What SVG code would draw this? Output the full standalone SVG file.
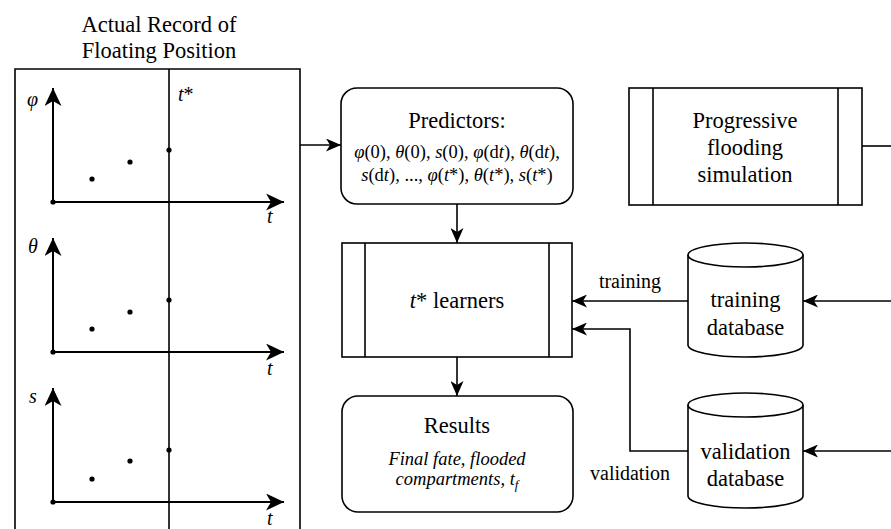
<svg xmlns="http://www.w3.org/2000/svg" width="891" height="529" viewBox="0 0 891 529" font-family="'Liberation Serif', 'DejaVu Serif', serif">
<defs>
<style>
.ln{fill:none;stroke:#000;stroke-width:1.6}
.ax{fill:none;stroke:#000;stroke-width:2}
.box{fill:#fff;stroke:#000;stroke-width:1.6}
text{font-family:'Liberation Serif','DejaVu Serif',serif;fill:#000}
.big{font-size:22.5px}
.lab{font-size:20px}
.mid{font-size:18.5px}
.it{font-style:italic}
.dot{fill:#000}
</style>
<marker id="arr" viewBox="0 0 15 13" refX="15" refY="6.5" markerWidth="15" markerHeight="13" markerUnits="userSpaceOnUse" orient="auto">
<path d="M0,0 L15,6.5 L0,13 L4,6.5 Z" fill="#000"/>
</marker>
<marker id="axa" viewBox="0 0 18 17" refX="18" refY="8.5" markerWidth="18" markerHeight="17" markerUnits="userSpaceOnUse" orient="auto">
<path d="M0,0 L18,8.5 L0,17 L5,8.5 Z" fill="#000"/>
</marker>
</defs>
<rect width="891" height="529" fill="#fff"/>

<g id="record">
<text class="big" x="159" y="32" text-anchor="middle">Actual Record of</text>
<text class="big" x="159" y="58" text-anchor="middle">Floating Position</text>
<path class="ln" d="M15,540 V69 H300 V540"/>
<line class="ln" x1="169" y1="69" x2="169" y2="540"/>
<text class="lab" x="178" y="101" font-style="italic">t<tspan font-style="normal">*</tspan></text>
<line class="ax" x1="53" y1="202" x2="53" y2="88" marker-end="url(#axa)"/>
<line class="ax" x1="53" y1="202" x2="284" y2="202" marker-end="url(#axa)"/>
<circle class="dot" cx="53" cy="202" r="2.6"/>
<circle class="dot" cx="92" cy="179" r="2.6"/>
<circle class="dot" cx="130" cy="162" r="2.6"/>
<circle class="dot" cx="169" cy="150" r="2.6"/>
<text class="lab it" x="27" y="106">φ</text>
<text class="lab it" x="267" y="223">t</text>
<line class="ax" x1="53" y1="352" x2="53" y2="238" marker-end="url(#axa)"/>
<line class="ax" x1="53" y1="352" x2="284" y2="352" marker-end="url(#axa)"/>
<circle class="dot" cx="53" cy="352" r="2.6"/>
<circle class="dot" cx="92" cy="329" r="2.6"/>
<circle class="dot" cx="130" cy="312" r="2.6"/>
<circle class="dot" cx="169" cy="300" r="2.6"/>
<text class="lab it" x="28" y="253">θ</text>
<text class="lab it" x="267" y="375">t</text>
<line class="ax" x1="53" y1="502" x2="53" y2="388" marker-end="url(#axa)"/>
<line class="ax" x1="53" y1="502" x2="284" y2="502" marker-end="url(#axa)"/>
<circle class="dot" cx="53" cy="502" r="2.6"/>
<circle class="dot" cx="92" cy="479" r="2.6"/>
<circle class="dot" cx="130" cy="461" r="2.6"/>
<circle class="dot" cx="169" cy="450" r="2.6"/>
<text class="lab it" x="29" y="403">s</text>
<text class="lab it" x="267" y="525">t</text>
</g>

<g id="connectors">
<line class="ln" x1="300" y1="145" x2="341" y2="145" marker-end="url(#arr)"/>
<line class="ln" x1="457" y1="204" x2="457" y2="243" marker-end="url(#arr)"/>
<line class="ln" x1="457" y1="357" x2="457" y2="396" marker-end="url(#arr)"/>
<line class="ln" x1="688" y1="301" x2="572" y2="301" marker-end="url(#arr)"/>
<polyline class="ln" points="688,451 630,451 630,329 572,329" marker-end="url(#arr)"/>
<line class="ln" x1="862" y1="146" x2="891" y2="146"/>
<line class="ln" x1="891" y1="301" x2="803" y2="301" marker-end="url(#arr)"/>
<line class="ln" x1="891" y1="451" x2="803" y2="451" marker-end="url(#arr)"/>
<text class="lab" x="630" y="288" text-anchor="middle">training</text>
<text class="lab" x="630" y="480" text-anchor="middle">validation</text>
</g>

<g id="predictors">
<rect class="box" x="341" y="88" width="232" height="116" rx="16"/>
<text class="big" x="457" y="128" text-anchor="middle">Predictors:</text>
<text class="mid" x="457" y="158" text-anchor="middle"><tspan class="it">φ</tspan>(0), <tspan class="it">θ</tspan>(0), <tspan class="it">s</tspan>(0), <tspan class="it">φ</tspan>(d<tspan class="it">t</tspan>), <tspan class="it">θ</tspan>(d<tspan class="it">t</tspan>),</text>
<text class="mid" x="457" y="181" text-anchor="middle"><tspan class="it">s</tspan>(d<tspan class="it">t</tspan>), ..., <tspan class="it">φ</tspan>(<tspan class="it">t</tspan>*), <tspan class="it">θ</tspan>(<tspan class="it">t</tspan>*), <tspan class="it">s</tspan>(<tspan class="it">t</tspan>*)</text>
</g>

<g id="learners">
<rect class="box" x="342" y="243" width="230" height="114"/>
<line class="ln" x1="365" y1="243" x2="365" y2="357"/>
<line class="ln" x1="549" y1="243" x2="549" y2="357"/>
<text class="big" x="457" y="308" text-anchor="middle"><tspan class="it">t</tspan>* learners</text>
</g>

<g id="results">
<rect class="box" x="342" y="396" width="231" height="116" rx="16"/>
<text class="big" x="457" y="433" text-anchor="middle">Results</text>
<text class="mid it" x="457" y="465" text-anchor="middle">Final fate, flooded</text>
<text class="mid it" x="457" y="485" text-anchor="middle">compartments, t<tspan font-size="13" dy="4">f</tspan></text>
</g>

<g id="simulation">
<rect class="box" x="629" y="88" width="233" height="117"/>
<line class="ln" x1="653" y1="88" x2="653" y2="205"/>
<line class="ln" x1="838" y1="88" x2="838" y2="205"/>
<text class="big" x="745" y="128" text-anchor="middle">Progressive</text>
<text class="big" x="745" y="155" text-anchor="middle">flooding</text>
<text class="big" x="745" y="182" text-anchor="middle">simulation</text>
</g>

<g id="training-db">
<path class="box" d="M688,255 A57.5,12 0 0 1 803,255 V345 A57.5,12 0 0 1 688,345 Z"/>
<path class="ln" d="M688,255 A57.5,12 0 0 0 803,255"/>
<text class="big" x="745.5" y="307" text-anchor="middle">training</text>
<text class="big" x="745.5" y="335" text-anchor="middle">database</text>
</g>

<g id="validation-db">
<path class="box" d="M688,405 A57.5,12 0 0 1 803,405 V496 A57.5,12 0 0 1 688,496 Z"/>
<path class="ln" d="M688,405 A57.5,12 0 0 0 803,405"/>
<text class="big" x="745.5" y="459" text-anchor="middle">validation</text>
<text class="big" x="745.5" y="486" text-anchor="middle">database</text>
</g>
</svg>
